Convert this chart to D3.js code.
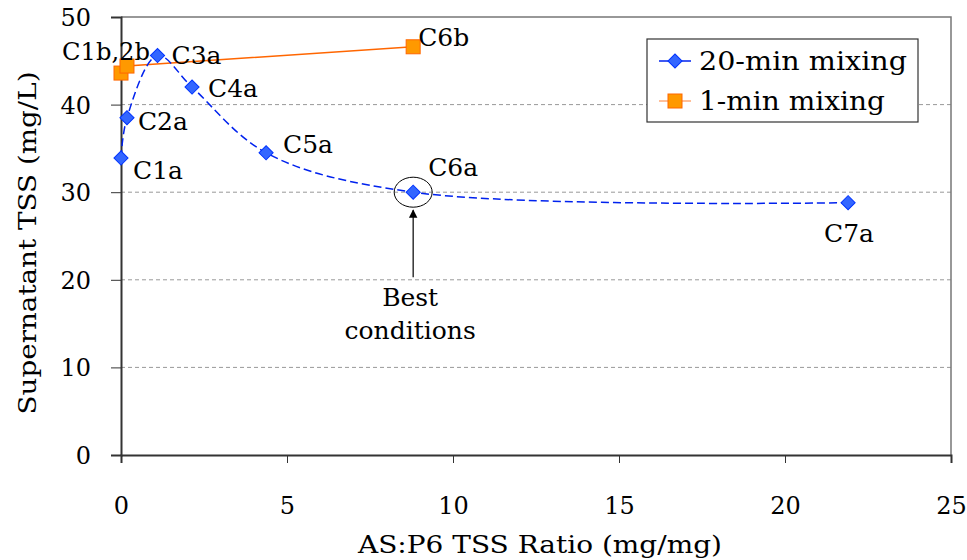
<!DOCTYPE html>
<html lang="en">
<head>
    <meta charset="UTF-8">
    <title>Supernatant TSS vs AS:P6 ratio</title>
    <style>
        body {
            margin: 0;
            padding: 0;
            background-color: white;
        }
        svg text {
            font-family: "DejaVu Serif", serif;
            fill: #000;
        }
        .grid line {
            stroke: #999;
            stroke-dasharray: 4,3;
        }
    </style>
</head>
<body>
    <div id="container"></div>

    <script src="https://d3js.org/d3.v7.min.js"></script>
    <script>
        // 20-min mixing series
        const ratio20 = [0, 0.18, 1.1, 2.14, 4.37, 8.8, 21.9];
        const tss20 = [33.9, 38.5, 45.6, 42.0, 34.5, 30.0, 28.8];
        const names20 = ["C1a", "C2a", "C3a", "C4a", "C5a", "C6a", "C7a"];

        // 1-min mixing series
        const ratio1 = [0, 0.18, 8.8];
        const tss1 = [43.6, 44.4, 46.6];

        const xTicks = [0, 5, 10, 15, 20, 25];
        const yTicks = [0, 10, 20, 30, 40, 50];

        const width = 967, height = 560;
        const margin = {left: 121, right: 16, top: 17, bottom: 105};
        const fs = "25px";

        const svg = d3.select("#container")
            .append("svg")
            .attr("width", width)
            .attr("height", height);

        const x = d3.scaleLinear().domain([0, 25]).range([margin.left, width - margin.right]);
        const y = d3.scaleLinear().domain([0, 50]).range([height - margin.bottom, margin.top]);

        // gridlines
        svg.append("g")
            .attr("class", "grid")
            .selectAll("line")
            .data(yTicks.filter(d => d > 0 && d < 50))
            .enter()
            .append("line")
            .attr("x1", x(0)).attr("x2", x(25))
            .attr("y1", d => y(d)).attr("y2", d => y(d));

        // plot frame (top and right)
        svg.append("path")
            .attr("d", `M${x(0)},${y(50)}H${x(25)}V${y(0)}`)
            .attr("fill", "none")
            .attr("stroke", "#777")
            .attr("stroke-width", 1.5);

        // x axis
        const xAxis = svg.append("g")
            .attr("transform", `translate(0,${y(0)})`)
            .call(d3.axisBottom(x).tickValues(xTicks).tickSize(8));
        xAxis.select(".domain").attr("stroke", "#333").attr("stroke-width", 2);
        xAxis.selectAll(".tick line").attr("stroke", "#333");
        xAxis.selectAll("text")
            .attr("dy", "0")
            .attr("y", 59)
            .style("font-family", "DejaVu Serif")
            .style("font-size", "24px");

        // y axis
        const yAxis = svg.append("g")
            .attr("transform", `translate(${x(0)},0)`)
            .call(d3.axisLeft(y).tickValues(yTicks).tickSize(10).tickPadding(20));
        yAxis.select(".domain").attr("stroke", "#333").attr("stroke-width", 2);
        yAxis.selectAll(".tick line").attr("stroke", "#333");
        yAxis.selectAll("text")
            .attr("dy", "0.35em")
            .style("font-family", "DejaVu Serif")
            .style("font-size", "24px");

        // axis titles
        svg.append("text")
            .attr("x", 540)
            .attr("y", 553)
            .attr("text-anchor", "middle")
            .attr("textLength", 364)
            .attr("lengthAdjust", "spacingAndGlyphs")
            .style("font-size", "24px")
            .text("AS:P6 TSS Ratio (mg/mg)");

        svg.append("text")
            .attr("transform", "translate(36,243) rotate(-90)")
            .attr("text-anchor", "middle")
            .attr("textLength", 343)
            .attr("lengthAdjust", "spacingAndGlyphs")
            .style("font-size", fs)
            .text("Supernatant TSS (mg/L)");

        const pts20 = ratio20.map((r, i) => ({x: r, y: tss20[i], name: names20[i]}));
        const pts1 = ratio1.map((r, i) => ({x: r, y: tss1[i]}));

        // 1-min line
        svg.append("path")
            .datum(pts1)
            .attr("fill", "none")
            .attr("stroke", "#ff6600")
            .attr("stroke-width", 1.5)
            .attr("d", d3.line().x(d => x(d.x)).y(d => y(d.y)));

        // 20-min smoothed dashed line
        svg.append("path")
            .datum(pts20)
            .attr("fill", "none")
            .attr("stroke", "#0022ee")
            .attr("stroke-width", 1.5)
            .attr("stroke-dasharray", "8,4")
            .attr("d", d3.line().curve(d3.curveCatmullRom.alpha(0.5)).x(d => x(d.x)).y(d => y(d.y)));

        // orange squares
        svg.append("g")
            .selectAll("rect")
            .data(pts1)
            .enter()
            .append("rect")
            .attr("x", d => x(d.x) - 7)
            .attr("y", d => y(d.y) - 7)
            .attr("width", 14)
            .attr("height", 14)
            .attr("fill", "#ff9900")
            .attr("stroke", "#ff6600")
            .attr("stroke-width", 1);

        // blue diamonds
        const diamond = d3.symbol().type(d3.symbolSquare).size(100);
        svg.append("g")
            .selectAll("path")
            .data(pts20)
            .enter()
            .append("path")
            .attr("d", diamond)
            .attr("transform", d => `translate(${x(d.x)},${y(d.y)}) rotate(45)`)
            .attr("fill", "#3366ff")
            .attr("stroke", "#0033ff")
            .attr("stroke-width", 1);

        // point labels (offsets in px)
        const labelOffsets = {
            C1a: [12, 21], C2a: [11, 12], C3a: [14, 8], C4a: [16, 10],
            C5a: [17, 0], C6a: [15, -16], C7a: [-24, 39]
        };
        svg.append("g")
            .selectAll("text")
            .data(pts20)
            .enter()
            .append("text")
            .attr("x", d => x(d.x) + labelOffsets[d.name][0])
            .attr("y", d => y(d.y) + labelOffsets[d.name][1])
            .style("font-size", fs)
            .text(d => d.name);

        svg.append("text")
            .attr("x", 62)
            .attr("y", 60)
            .attr("textLength", 88)
            .attr("lengthAdjust", "spacingAndGlyphs")
            .style("font-size", fs)
            .text("C1b,2b");
        svg.append("text")
            .attr("x", x(ratio1[2]) + 5)
            .attr("y", y(tss1[2]) - 1)
            .style("font-size", fs)
            .text("C6b");

        // best conditions annotation
        const bx = x(ratio20[5]), by = y(tss20[5]);
        svg.append("ellipse")
            .attr("cx", bx).attr("cy", by)
            .attr("rx", 19).attr("ry", 15)
            .attr("fill", "none")
            .attr("stroke", "#000")
            .attr("stroke-width", 1);

        svg.append("defs").append("marker")
            .attr("id", "arrow")
            .attr("viewBox", "0 0 10 10")
            .attr("refX", 9).attr("refY", 5)
            .attr("markerWidth", 7).attr("markerHeight", 9)
            .attr("orient", "auto")
            .append("path")
            .attr("d", "M0,0L10,5L0,10z")
            .attr("fill", "#000");

        svg.append("line")
            .attr("x1", bx).attr("y1", by + 85)
            .attr("x2", bx).attr("y2", by + 18)
            .attr("stroke", "#000")
            .attr("stroke-width", 1.2)
            .attr("marker-end", "url(#arrow)");

        svg.append("text")
            .attr("x", bx - 3).attr("y", by + 114)
            .attr("text-anchor", "middle")
            .style("font-size", fs)
            .text("Best");
        svg.append("text")
            .attr("x", bx - 3).attr("y", by + 147)
            .attr("text-anchor", "middle")
            .style("font-size", fs)
            .text("conditions");

        // legend
        const legend = svg.append("g").attr("transform", "translate(647,39)");
        legend.append("rect")
            .attr("width", 271).attr("height", 83)
            .attr("fill", "white")
            .attr("stroke", "#333")
            .attr("stroke-width", 1.2);

        const leg1 = legend.append("g").attr("transform", "translate(0,22)");
        leg1.append("line").attr("x1", 12).attr("x2", 44)
            .attr("stroke", "#0022ee").attr("stroke-width", 1.5);
        leg1.append("path").attr("d", diamond)
            .attr("transform", "translate(28,0) rotate(45)")
            .attr("fill", "#3366ff").attr("stroke", "#0033ff");
        leg1.append("text").attr("x", 52).attr("dy", "0.35em")
            .attr("textLength", 208)
            .attr("lengthAdjust", "spacingAndGlyphs")
            .style("font-size", "26px").text("20-min mixing");

        const leg2 = legend.append("g").attr("transform", "translate(0,62)");
        leg2.append("line").attr("x1", 12).attr("x2", 44)
            .attr("stroke", "#ffaa77").attr("stroke-width", 1.5);
        leg2.append("rect").attr("x", 21).attr("y", -7)
            .attr("width", 14).attr("height", 14)
            .attr("fill", "#ff9900").attr("stroke", "#ff6600");
        leg2.append("text").attr("x", 52).attr("dy", "0.35em")
            .attr("textLength", 186)
            .attr("lengthAdjust", "spacingAndGlyphs")
            .style("font-size", "26px").text("1-min mixing");
    </script>
</body>
</html>
